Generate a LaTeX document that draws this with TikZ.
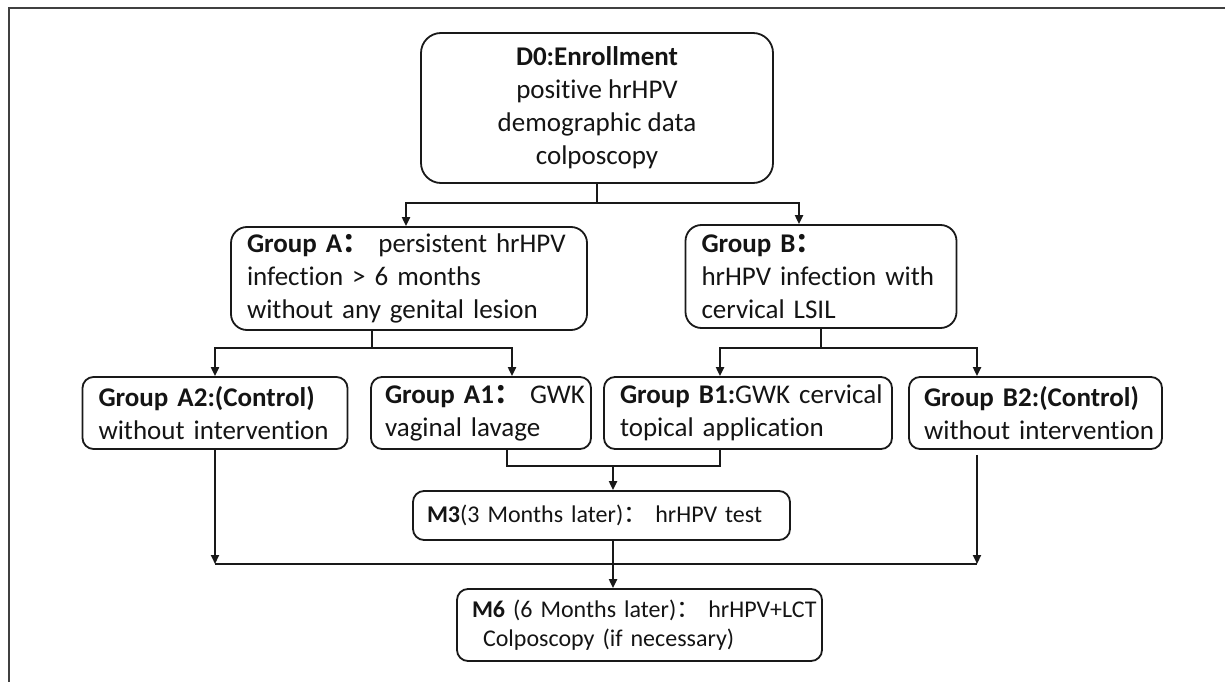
\documentclass[tikz,border=0pt]{standalone}
\usepackage{fontspec}
\setmainfont{Carlito}[Ligatures=NoCommon]
\newfontfamily\cjk{Noto Sans CJK SC}
\usetikzlibrary{arrows.meta}
\newcommand{\fc}{{\cjk ：}}
\begin{document}
\begin{tikzpicture}[x=1pt,y=-1pt,
  box/.style={draw=black!90, line width=1.8pt, rounded corners=11pt, inner ysep=0pt,
    font=\fontsize{27}{33}\selectfont, text=black!92},
  lbox/.style={box, align=left},
  sbox/.style={lbox, font=\fontsize{24}{29}\selectfont},
  conn/.style={line width=2pt, draw=black!90},
  arr/.style={conn, -{Triangle[length=9pt,width=8pt]}},
  frame/.style={line width=2pt, draw=black!75}
]
\useasboundingbox (0,0) rectangle (1225,682);
\draw[frame] (9,682) -- (9,8) -- (1225,8);

\node[box, align=center, rounded corners=20pt, minimum width=352pt, minimum height=150pt, inner xsep=0pt] (D0) at (597,108)
  {\textbf{D0:Enrollment}\\ positive hrHPV\\ demographic data\\ colposcopy};

\node[lbox, rounded corners=16pt, text width=324pt, inner xsep=16pt, minimum height=103pt] (GA) at (409,278.5)
  {\mbox{\textbf{Group A\fc}\ persistent hrHPV}\\ \mbox{infection > 6 months}\\ \mbox{without any genital lesion}};

\node[lbox, rounded corners=16pt, text width=239pt, inner xsep=16pt, minimum height=103pt] (GB) at (821,276.5)
  {\textbf{Group B\fc}\\ \mbox{hrHPV infection with}\\ \mbox{cervical LSIL}};

\node[lbox, text width=233pt, inner xsep=16pt, minimum height=72pt] (A2) at (215,413)
  {\mbox{\textbf{Group A2:(Control)}}\\ \mbox{without intervention}};

\node[lbox, text width=192pt, inner xsep=14pt, minimum height=72pt] (A1) at (481,413)
  {\mbox{\textbf{Group A1\fc}\ GWK}\\ \mbox{vaginal lavage}};

\node[lbox, text width=256pt, inner xsep=16pt, minimum height=72pt] (B1) at (748,413)
  {\mbox{\textbf{Group B1:}GWK cervical}\\ \mbox{topical application}};

\node[lbox, text width=223pt, inner xsep=15pt, minimum height=72pt] (B2) at (1035.5,413)
  {\mbox{\textbf{Group B2:(Control)}}\\ \mbox{without intervention}};

\node[sbox, text width=349pt, inner xsep=14pt, minimum height=49pt] (M3) at (601.5,515.5)
  {\mbox{\textbf{M3}(3 Months later)\fc\ hrHPV test}};

\node[sbox, text width=335pt, inner xsep=15pt, minimum height=72pt] (M6) at (639.5,625)
  {\mbox{\textbf{M6} (6 Months later)\fc\ hrHPV+LCT}\\ \mbox{\hspace*{11pt}Colposcopy (if necessary)}};

% D0 split
\coordinate (j0) at (597,203);
\draw[conn] (D0.south) -- (j0);
\draw[arr] (j0) -| ([xshift=-3pt]GA.north);
\draw[arr] (j0) -| ([xshift=-22pt]GB.north);

% Group A split
\coordinate (ja) at (372,348);
\draw[conn] ([xshift=-37pt]GA.south) -- (ja);
\draw[arr] (ja) -| (A2.north);
\draw[arr] (ja) -| ([xshift=31pt]A1.north);

% Group B split
\coordinate (jb) at (821,348);
\draw[conn] (GB.south) -- (jb);
\draw[arr] (jb) -| ([xshift=-28pt]B1.north);
\draw[arr] (jb) -| ([xshift=-58.5pt]B2.north);

% merge A1 + B1 -> M3
\coordinate (jm) at (613,466);
\draw[conn] ([xshift=26pt]A1.south) |- (jm);
\draw[conn] ([xshift=-28pt]B1.south) |- (jm);
\draw[arr] (jm) -- ([xshift=11.5pt]M3.north);

% M3 -> M6
\draw[arr] ([xshift=11.5pt]M3.south) -- ([xshift=-26.5pt]M6.north);

% controls -> bottom line
\coordinate (la) at (215,564);
\coordinate (lb) at (977,564);
\draw[arr] (A2.south) -- (la);
\draw[arr] ([xshift=-58.5pt,yshift=-5pt]B2.south) -- (lb);
\draw[conn] (la) -- (lb);
\end{tikzpicture}
\end{document}
